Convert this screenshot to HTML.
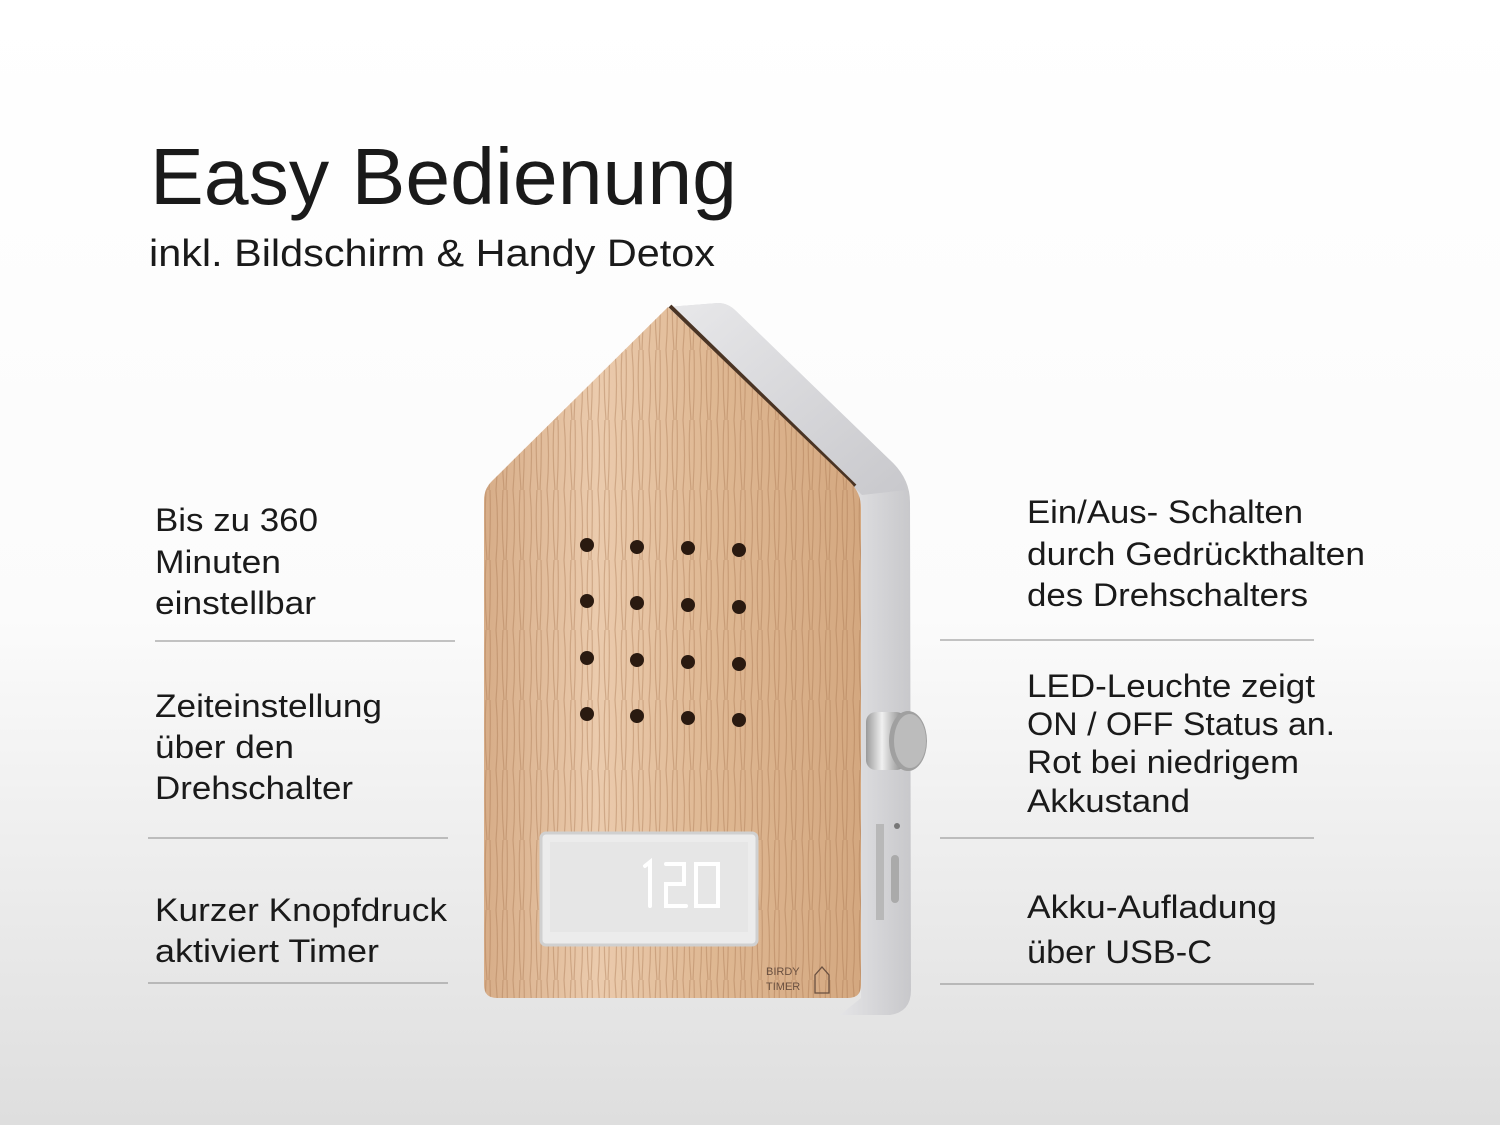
<!DOCTYPE html>
<html><head><meta charset="utf-8"><style>
html,body{margin:0;padding:0;width:1500px;height:1125px;overflow:hidden}
svg{display:block}
text{font-family:"Liberation Sans",sans-serif;fill:#1a1a1a}
</style></head><body>
<svg width="1500" height="1125" viewBox="0 0 1500 1125" xmlns="http://www.w3.org/2000/svg">
<defs>
<linearGradient id="bg" x1="0" y1="0" x2="0" y2="1">
<stop offset="0" stop-color="#ffffff"/><stop offset="0.55" stop-color="#fbfbfb"/><stop offset="1" stop-color="#dedede"/>
</linearGradient>
<linearGradient id="side" x1="0" y1="0" x2="1" y2="0">
<stop offset="0" stop-color="#cfcfd2"/><stop offset="0.6" stop-color="#eeeef0"/><stop offset="1" stop-color="#c8c8cb"/>
</linearGradient>
<linearGradient id="roof" x1="0" y1="0" x2="1" y2="1">
<stop offset="0" stop-color="#e8e8ea"/><stop offset="1" stop-color="#c8c8cc"/>
</linearGradient>
<linearGradient id="wood" x1="0" y1="0" x2="1" y2="0">
<stop offset="0" stop-color="#d7ad88"/><stop offset="0.3" stop-color="#ebcbad"/><stop offset="0.6" stop-color="#dfb893"/><stop offset="1" stop-color="#d4a880"/>
</linearGradient>
<pattern id="grain" width="17" height="70" patternUnits="userSpaceOnUse">
<path d="M3 0 Q6 35 3 70 M10 0 Q8 35 11 70 M14 0 Q15 35 13 70" stroke="#a87550" stroke-width="1.2" fill="none" opacity="0.4"/>
</pattern>
<linearGradient id="knob" x1="0" y1="0" x2="1" y2="0">
<stop offset="0" stop-color="#9a9a9a"/><stop offset="0.4" stop-color="#f0f0f0"/><stop offset="1" stop-color="#7a7a7a"/>
</linearGradient>
</defs>
<rect width="1500" height="1125" fill="url(#bg)"/>

<text x="150" y="204" font-size="80" textLength="587" lengthAdjust="spacingAndGlyphs">Easy Bedienung</text>
<text x="149" y="266" font-size="38" textLength="566" lengthAdjust="spacingAndGlyphs">inkl. Bildschirm &amp; Handy Detox</text>

<!-- side body -->
<path d="M668 307 L718 303 Q728 303 736 311 L893 463 Q910 480 910 502 L911 990 Q911 1012 890 1015 L840 1015 L861 998 L861 508 Z" fill="url(#side)"/>
<path d="M668 307 L718 303 Q728 303 736 311 L893 463 Q905 475 906 490 L862 495 Z" fill="url(#roof)"/>
<path d="M670 306 L855 486" stroke="#4a3424" stroke-width="4" fill="none"/>
<!-- wood front -->
<path d="M668 307 L850 482 Q861 493 861 508 L861 985 Q861 998 848 998 L497 998 Q484 998 484 985 L484 500 Q484 489 492 481 Z" fill="url(#wood)"/>
<path d="M668 307 L850 482 Q861 493 861 508 L861 985 Q861 998 848 998 L497 998 Q484 998 484 985 L484 500 Q484 489 492 481 Z" fill="url(#grain)"/>
<!-- holes -->
<g fill="#2a1a10">
<circle cx="587" cy="545" r="7"/><circle cx="637" cy="547" r="7"/><circle cx="688" cy="548" r="7"/><circle cx="739" cy="550" r="7"/>
<circle cx="587" cy="601" r="7"/><circle cx="637" cy="603" r="7"/><circle cx="688" cy="605" r="7"/><circle cx="739" cy="607" r="7"/>
<circle cx="587" cy="658" r="7"/><circle cx="637" cy="660" r="7"/><circle cx="688" cy="662" r="7"/><circle cx="739" cy="664" r="7"/>
<circle cx="587" cy="714" r="7"/><circle cx="637" cy="716" r="7"/><circle cx="688" cy="718" r="7"/><circle cx="739" cy="720" r="7"/>
</g>
<!-- display -->
<rect x="541" y="833" width="216" height="112" rx="5" fill="#ececec" stroke="#d0d0d0" stroke-width="3"/>
<rect x="550" y="842" width="198" height="90" fill="#e6e6e6"/>
<g stroke="#fff" stroke-width="4" fill="none" stroke-linecap="round">
<path d="M645 866 L650 862 V906"/>
<path d="M666 864 H684 V884 H666 V906 H686"/>
<path d="M696 864 H718 V906 H696 Z"/>
</g>
<text x="766" y="975" font-size="11" style="fill:#6a5040">BIRDY</text>
<text x="766" y="990" font-size="11" style="fill:#6a5040">TIMER</text>
<path d="M815 993 V975 L822 967 L829 975 V993 Z" fill="none" stroke="#6a5040" stroke-width="1.3"/>
<!-- knob & ports -->
<rect x="866" y="712" width="40" height="58" rx="10" fill="url(#knob)"/>
<ellipse cx="908" cy="741" rx="19" ry="30" fill="#a0a0a0"/>
<ellipse cx="910" cy="741" rx="16" ry="27" fill="#bcbcbc"/>
<rect x="876" y="824" width="8" height="96" fill="#b8b8b8"/>
<circle cx="897" cy="826" r="3" fill="#777"/>
<rect x="891" y="855" width="8" height="48" rx="4" fill="#aaa"/>

<!-- lines -->
<g stroke="#8a8a8a" stroke-width="1">
<line x1="155" y1="641" x2="455" y2="641"/>
<line x1="148" y1="838" x2="448" y2="838"/>
<line x1="148" y1="983" x2="448" y2="983"/>
<line x1="940" y1="640" x2="1314" y2="640"/>
<line x1="940" y1="838" x2="1314" y2="838"/>
<line x1="940" y1="984" x2="1314" y2="984"/>
</g>

<g font-size="32">
<text x="155" y="531" textLength="163" lengthAdjust="spacingAndGlyphs">Bis zu 360</text>
<text x="155" y="573" textLength="126" lengthAdjust="spacingAndGlyphs">Minuten</text>
<text x="155" y="614" textLength="161" lengthAdjust="spacingAndGlyphs">einstellbar</text>
<text x="155" y="717" textLength="227" lengthAdjust="spacingAndGlyphs">Zeiteinstellung</text>
<text x="155" y="758" textLength="139" lengthAdjust="spacingAndGlyphs">über den</text>
<text x="155" y="799" textLength="198" lengthAdjust="spacingAndGlyphs">Drehschalter</text>
<text x="155" y="921" textLength="292" lengthAdjust="spacingAndGlyphs">Kurzer Knopfdruck</text>
<text x="155" y="962" textLength="224" lengthAdjust="spacingAndGlyphs">aktiviert Timer</text>

<text x="1027" y="523" textLength="276" lengthAdjust="spacingAndGlyphs">Ein/Aus- Schalten</text>
<text x="1027" y="565" textLength="338" lengthAdjust="spacingAndGlyphs">durch Gedrückthalten</text>
<text x="1027" y="606" textLength="281" lengthAdjust="spacingAndGlyphs">des Drehschalters</text>
<text x="1027" y="697" textLength="288" lengthAdjust="spacingAndGlyphs">LED-Leuchte zeigt</text>
<text x="1027" y="735" textLength="308" lengthAdjust="spacingAndGlyphs">ON / OFF Status an.</text>
<text x="1027" y="773" textLength="272" lengthAdjust="spacingAndGlyphs">Rot bei niedrigem</text>
<text x="1027" y="812" textLength="163" lengthAdjust="spacingAndGlyphs">Akkustand</text>
<text x="1027" y="918" textLength="250" lengthAdjust="spacingAndGlyphs">Akku-Aufladung</text>
<text x="1027" y="963" textLength="185" lengthAdjust="spacingAndGlyphs">über USB-C</text>
</g>
</svg>
</body></html>
